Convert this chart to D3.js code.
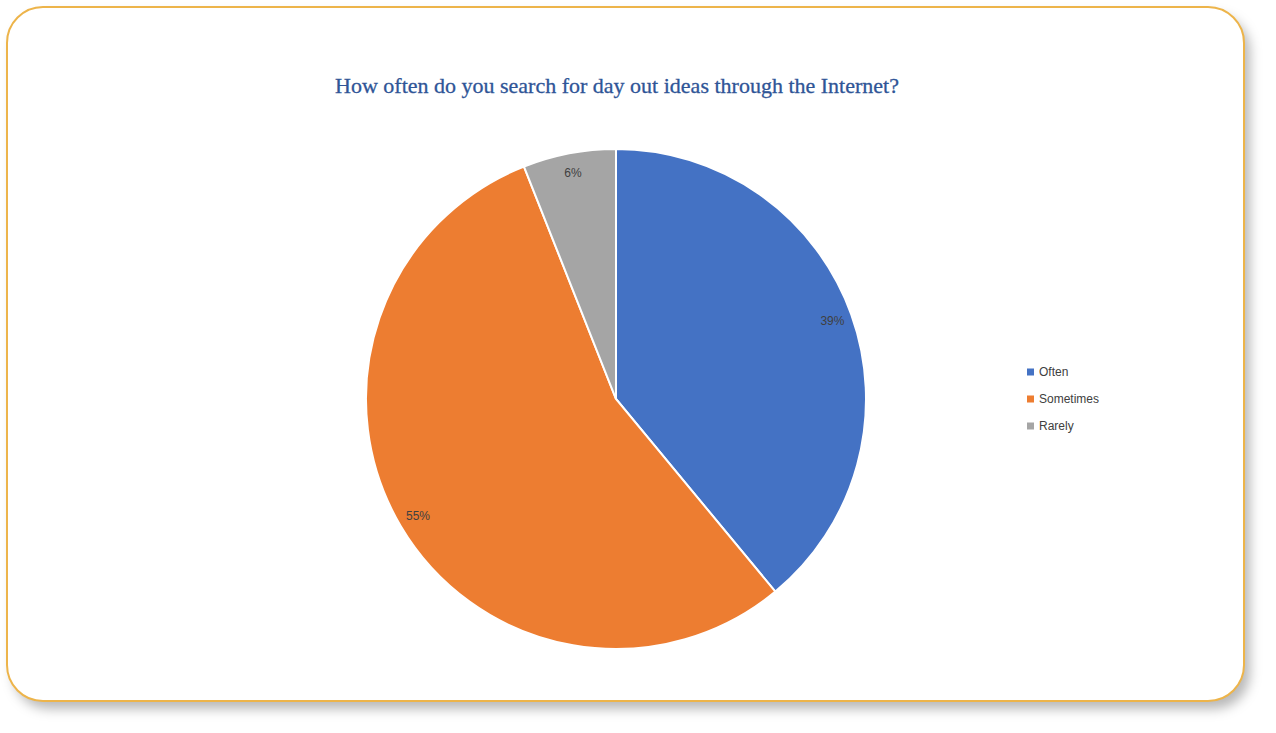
<!DOCTYPE html>
<html><head><meta charset="utf-8">
<script src="https://cdn.jsdelivr.net/npm/d3@7"></script>
<style>html,body{margin:0;padding:0;background:#fff;}svg{display:block;}</style>
</head><body>
<svg id="chart" width="1276" height="733"></svg>
<script>
const categories = ["Often", "Sometimes", "Rarely"];
const values = [39, 55, 6];
const labels = ["39%", "55%", "6%"];
const colors = ["#4472C4", "#ED7D31", "#A5A5A5"];
const title = "How often do you search for day out ideas through the Internet?";

const svg = d3.select("#chart");
const defs = svg.append("defs");
const f = defs.append("filter").attr("id","sh").attr("x","-10%").attr("y","-10%").attr("width","130%").attr("height","130%");
f.append("feDropShadow").attr("dx",6).attr("dy",8).attr("stdDeviation",6).attr("flood-color","#000").attr("flood-opacity",0.28);

svg.append("rect").attr("x",7).attr("y",7).attr("width",1237).attr("height",694)
  .attr("rx",36).attr("ry",36).attr("fill","#fff").attr("filter","url(#sh)");
svg.append("rect").attr("x",7).attr("y",7).attr("width",1237).attr("height",694)
  .attr("rx",36).attr("ry",36).attr("fill","#fff").attr("stroke","#EDB44A").attr("stroke-width",2);

svg.append("text").attr("x",617).attr("y",93).attr("text-anchor","middle")
  .attr("font-family","Liberation Serif, serif").attr("font-size",22)
  .attr("fill","#2F5597").attr("stroke","#2F5597").attr("stroke-width",0.3).text(title);

const cx = 616, cy = 399, R = 250;
const pie = d3.pie().sort(null).value(d => d);
const arcs = pie(values);
const arc = d3.arc().innerRadius(0).outerRadius(R);
const labelArc = d3.arc().innerRadius(230).outerRadius(230);
const g = svg.append("g").attr("transform",`translate(${cx},${cy})`);
g.selectAll("path").data(arcs).enter().append("path")
  .attr("d",arc).attr("fill",(d,i)=>colors[i]).attr("stroke","#fff").attr("stroke-width",2);
g.selectAll("text").data(arcs).enter().append("text")
  .attr("transform",d=>`translate(${labelArc.centroid(d)})`)
  .attr("text-anchor","middle").attr("dominant-baseline","central")
  .attr("font-family","Liberation Sans, Arial, sans-serif").attr("font-size",12)
  .attr("fill","#404040").text((d,i)=>labels[i]);

const leg = svg.append("g");
const ly = d3.scalePoint().domain(categories).range([372,426]);
categories.forEach((c,i)=>{
  leg.append("rect").attr("x",1027).attr("y",ly(c)-3.5).attr("width",7).attr("height",7).attr("fill",colors[i]);
  leg.append("text").attr("x",1039).attr("y",ly(c)).attr("dominant-baseline","central")
    .attr("font-family","Liberation Sans, Arial, sans-serif").attr("font-size",12)
    .attr("fill","#404040").text(c);
});
</script>
</body></html>
